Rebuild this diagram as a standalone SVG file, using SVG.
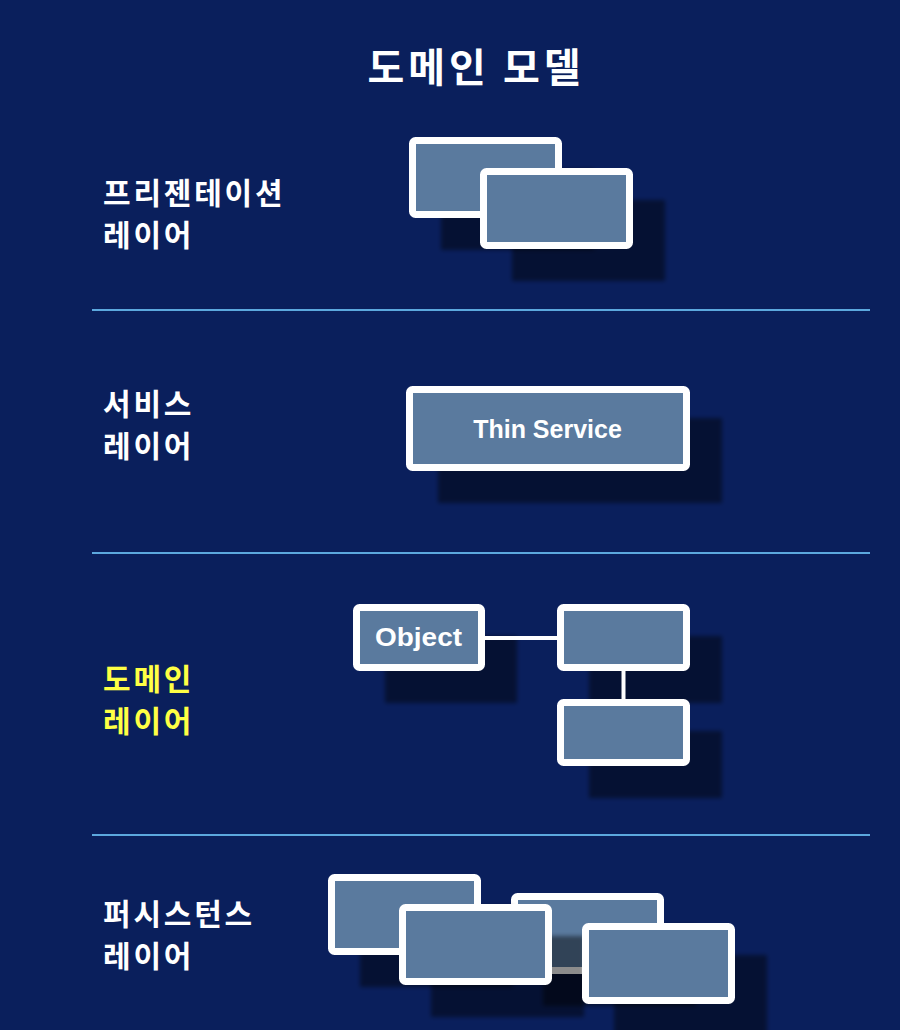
<svg xmlns="http://www.w3.org/2000/svg" width="900" height="1030" viewBox="0 0 900 1030">
<style>
.box{fill:#5a7a9e;stroke:#ffffff;stroke-width:7}
.sh{fill:#000000;fill-opacity:0.45;filter:url(#blur)}
.lbl{font-family:"Noto Sans CJK KR","Noto Sans",sans-serif;font-weight:bold;font-size:30px;letter-spacing:2.8px;fill:#ffffff}
.title{font-family:"Noto Sans CJK KR","Noto Sans",sans-serif;font-weight:bold;font-size:40px;letter-spacing:4px;fill:#ffffff}
.in{font-family:"Liberation Sans",Arial,sans-serif;font-weight:bold;font-size:25px;fill:#ffffff}
.div{stroke:#5ca8de;stroke-width:2}
.conn{stroke:#ffffff;stroke-width:4;fill:none}
</style>
<defs>
<filter id="blur" x="-10%" y="-10%" width="120%" height="120%"><feGaussianBlur stdDeviation="2"/></filter>
</defs>
<rect x="0" y="0" width="900" height="1030" fill="#0a1f5c"/>
<text class="title" x="476" y="82" text-anchor="middle">도메인 모델</text>
<g id="dividers">
<line class="div" x1="92" y1="310" x2="870" y2="310"/>
<line class="div" x1="92" y1="553" x2="870" y2="553"/>
<line class="div" x1="92" y1="835" x2="870" y2="835"/>
</g>
<g id="labels">
<text class="lbl" x="103" y="204">프리젠테이션</text>
<text class="lbl" x="103" y="246">레이어</text>
<text class="lbl" x="103" y="415">서비스</text>
<text class="lbl" x="103" y="457">레이어</text>
<text class="lbl" x="103" y="690" style="fill:#ffff44">도메인</text>
<text class="lbl" x="103" y="732" style="fill:#ffff44">레이어</text>
<text class="lbl" x="103" y="925">퍼시스턴스</text>
<text class="lbl" x="103" y="967">레이어</text>
</g>
<g id="presentation">
<rect class="sh" x="441" y="169" width="153" height="81"/>
<rect class="box" x="412.5" y="140.5" width="146" height="74" rx="3"/>
<rect class="sh" x="512" y="200" width="153" height="81"/>
<rect class="box" x="483.5" y="171.5" width="146" height="74" rx="3"/>
</g>
<g id="service">
<rect class="sh" x="438" y="418" width="284" height="85"/>
<rect class="box" x="409.5" y="389.5" width="277" height="78" rx="3"/>
<text class="in" x="547.5" y="438" text-anchor="middle">Thin Service</text>
</g>
<g id="domain-shadows">
<rect class="sh" x="385" y="636" width="132" height="67"/>
<rect class="sh" x="589" y="636" width="133" height="67"/>
<rect class="sh" x="589" y="731" width="133" height="67"/>
</g>
<g id="connectors">
<line class="conn" x1="485" y1="638" x2="557" y2="638"/>
<line class="conn" x1="623.5" y1="671" x2="623.5" y2="699"/>
</g>
<g id="domain-object">
<rect class="box" x="356.5" y="607.5" width="125" height="60" rx="3"/>
<text class="in" x="418.5" y="646" text-anchor="middle" textLength="87" lengthAdjust="spacingAndGlyphs">Object</text>
</g>
<g id="domain-b">
<rect class="box" x="560.5" y="607.5" width="126" height="60" rx="3"/>
</g>
<g id="domain-c">
<rect class="box" x="560.5" y="702.5" width="126" height="60" rx="3"/>
</g>
<g id="persistence">
<rect class="sh" x="543" y="925" width="153" height="81"/>
<rect class="box" x="514.5" y="896.5" width="146" height="74" rx="3"/>
<rect class="sh" x="360" y="906" width="153" height="81"/>
<rect class="box" x="331.5" y="877.5" width="146" height="74" rx="3"/>
<rect class="sh" x="431" y="936" width="153" height="81"/>
<rect class="box" x="402.5" y="907.5" width="146" height="74" rx="3"/>
<rect class="sh" x="614" y="955" width="153" height="81"/>
<rect class="box" x="585.5" y="926.5" width="146" height="74" rx="3"/>
</g>
</svg>
